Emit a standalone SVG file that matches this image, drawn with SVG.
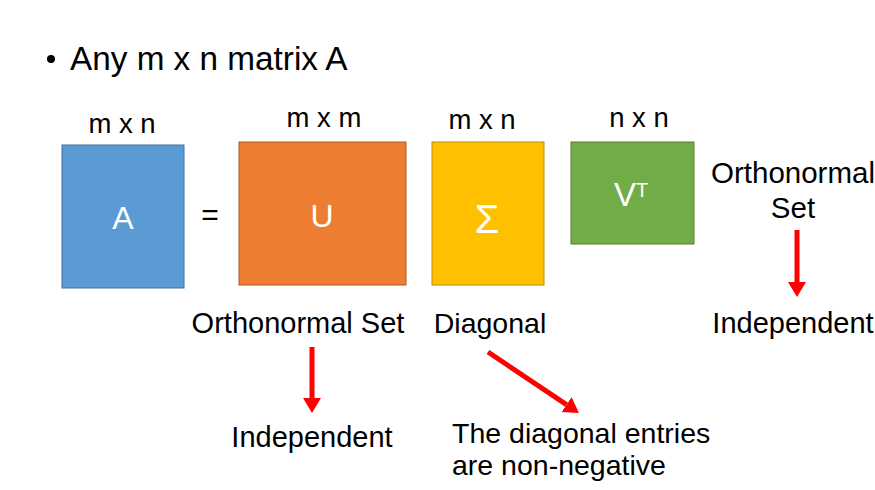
<svg xmlns="http://www.w3.org/2000/svg" width="875" height="490" viewBox="0 0 875 490">
<style>
.t{font-family:"Liberation Sans",Arial,sans-serif;fill:#000}
.w{font-family:"Liberation Sans",Arial,sans-serif;fill:#fff}
.arr{stroke:#ff0000;stroke-width:5;fill:none}
</style>
<defs>
<marker id="ah" markerUnits="userSpaceOnUse" markerWidth="16" markerHeight="20" refX="0" refY="9" orient="auto" viewBox="0 0 16 18">
<path d="M0,0 L15,9 L0,18 z" fill="#ff0000"/>
</marker>
</defs>
<rect width="875" height="490" fill="#fff"/>
<g id="title">
<circle cx="51" cy="59" r="4" fill="#000"/>
<text class="t" x="70" y="70" font-size="33.3">Any m x n matrix A</text>
</g>
<g id="nodeA">
<text class="t" x="122" y="133" font-size="27.5" text-anchor="middle">m x n</text>
<rect x="62" y="145" width="122" height="143" fill="#5b9bd5" stroke="#41719c" stroke-width="1"/>
<text class="w" x="123" y="229" font-size="32" text-anchor="middle">A</text>
</g>
<g id="eq">
<text class="t" x="210" y="225" font-size="30" text-anchor="middle">=</text>
</g>
<g id="nodeU">
<text class="t" x="324" y="127" font-size="27.5" text-anchor="middle">m x m</text>
<rect x="239" y="142" width="167" height="143" fill="#ed7d31" stroke="#ae5a21" stroke-width="1"/>
<text class="w" x="322" y="227" font-size="32" text-anchor="middle">U</text>
</g>
<g id="nodeS">
<text class="t" x="482" y="129" font-size="27.5" text-anchor="middle">m x n</text>
<rect x="432" y="142" width="112" height="143" fill="#ffc000" stroke="#bc8c00" stroke-width="1"/>
<text class="w" x="487" y="233" font-size="40" text-anchor="middle">Σ</text>
</g>
<g id="nodeV">
<text class="t" x="639" y="127" font-size="27.5" text-anchor="middle">n x n</text>
<rect x="571" y="142" width="123" height="102" fill="#70ad47" stroke="#507e32" stroke-width="1"/>
<text class="w" x="614" y="206" font-size="33">V<tspan font-size="20" dy="-9">T</tspan></text>
</g>
<g id="labels">
<text class="t" x="298" y="333" font-size="29" text-anchor="middle">Orthonormal Set</text>
<text class="t" x="490" y="333" font-size="28.5" text-anchor="middle">Diagonal</text>
<text class="t" x="312" y="447" font-size="29" text-anchor="middle">Independent</text>
<text class="t" x="452" y="443" font-size="28.5">The diagonal entries</text>
<text class="t" x="452" y="475" font-size="28.5">are non-negative</text>
<text class="t" x="793" y="183" font-size="29.5" text-anchor="middle">Orthonormal</text>
<text class="t" x="793" y="218" font-size="29.5" text-anchor="middle">Set</text>
<text class="t" x="793" y="333" font-size="29" text-anchor="middle">Independent</text>
</g>
<g id="connectors">
<line class="arr" x1="312" y1="347" x2="312" y2="398" marker-end="url(#ah)"/>
<line class="arr" x1="488" y1="352" x2="566.5" y2="404.6" marker-end="url(#ah)"/>
<line class="arr" x1="797" y1="230" x2="797" y2="282" marker-end="url(#ah)"/>
</g>
</svg>
